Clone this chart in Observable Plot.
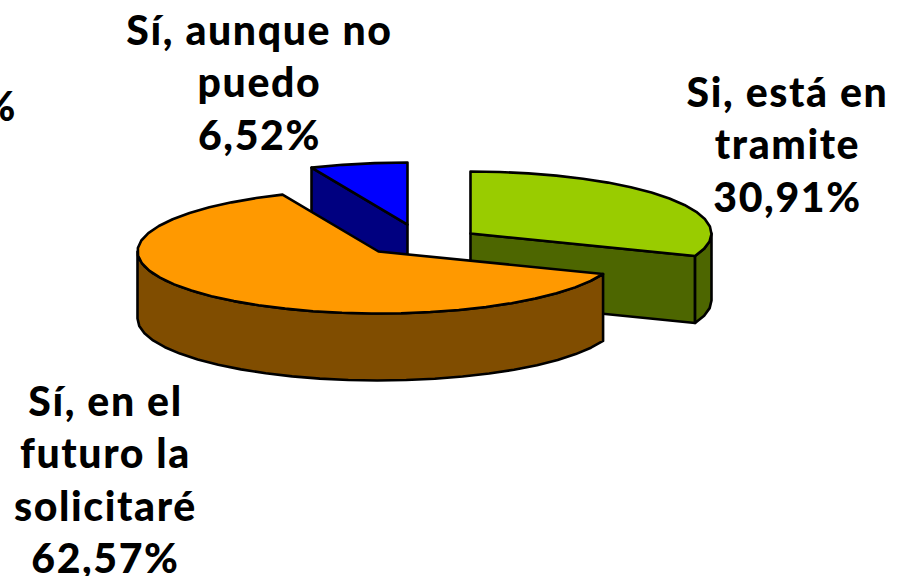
<!DOCTYPE html>
<html>
<head>
<meta charset="utf-8">
<style>html,body{margin:0;padding:0;background:#fff}svg{display:block}</style>
<script src="https://cdn.jsdelivr.net/npm/d3@7"></script>
<script src="https://cdn.jsdelivr.net/npm/@observablehq/plot@0.6"></script>
</head>
<body>
<div id="chart"></div>
<script>
const categories = ["Si, está en\ntramite", "Sí, en el\nfuturo la\nsolicitaré", "Sí, aunque no\npuedo"];
const shares = [30.91, 62.57, 6.52];
const shareLabels = ["30,91%", "62,57%", "6,52%"];
const topColors = ["#99cc00", "#ff9900", "#0000ff"];
const sideColors = ["#4d6600", "#804d00", "#000080"];
// explode offset of each slice, in radius units (x) and tilted radius units (y)
const explodeX = [0.3817, 0, 0.1203];
const explodeY = [-0.29, 0, -0.435];
// label anchors in the same units
const labelX = [1.697, -1.133, -0.494];
const labelY = [-1.76, 3.65, -2.76];

const depth = 1.08, step = 7;
const rad = d => d * Math.PI / 180;
let cum = 0;
const slices = shares.map((s, i) => {
  const a0 = cum; cum += s * 3.6;
  return {i, a0, a1: cum, ox: explodeX[i], oy: explodeY[i]};
});
const rim = (s, a, dz = 0) => ({x: s.ox + Math.sin(rad(a)), y: s.oy - Math.cos(rad(a)) + dz});
const centre = (s, dz = 0) => ({x: s.ox, y: s.oy + dz});
const arc = (s, a0, a1, dz = 0) => {
  const n = Math.max(1, Math.round((a1 - a0) / step));
  return d3.range(n + 1).map(k => rim(s, a0 + (a1 - a0) * k / n, dz));
};
const topFace = s => [centre(s), ...arc(s, s.a0, s.a1)];
const cutWall = (s, a) => [centre(s), rim(s, a), rim(s, a, depth), centre(s, depth)];
const rimWall = (s, a0, a1) => [...arc(s, a0, a1), ...arc(s, a0, a1, depth).reverse()];
const poly = (pts, fill) => Plot.line(pts, {
  x: "x", y: "y", curve: "linear-closed", fill, stroke: "#000", strokeWidth: 2.6, strokeLinejoin: "round"
});
const [green, orange, blue] = slices;

const labels = categories.map((c, i) => ({text: c + "\n" + shareLabels[i], x: labelX[i], y: labelY[i]}));
const font = {fontSize: 41, fontWeight: 900, fontFamily: "Lato", fill: "#000"};

const plot = Plot.plot({
  width: 898, height: 576, margin: 0,
  x: {domain: [-378 / 241, 520 / 241], range: [0, 898], axis: null},
  y: {domain: [-251 / 62, 325 / 62], range: [0, 576], axis: null},
  style: {background: "#fff", letterSpacing: "1.6px"},
  marks: [
    poly(cutWall(blue, blue.a0), sideColors[2]),
    poly(topFace(blue), topColors[2]),
    poly(cutWall(green, green.a1), sideColors[0]),
    poly(rimWall(green, 90, green.a1), sideColors[0]),
    poly(topFace(green), topColors[0]),
    poly(rimWall(orange, orange.a0, 270), sideColors[1]),
    poly(topFace(orange), topColors[1]),
    Plot.text(labels, {x: "x", y: "y", text: "text", textAnchor: "middle", lineHeight: 1.28, ...font}),
    Plot.text(["%"], {x: [-1.5], y: [-2.31], textAnchor: "end", ...font})
  ]
});
document.getElementById("chart").append(plot);
</script>
</body>
</html>
